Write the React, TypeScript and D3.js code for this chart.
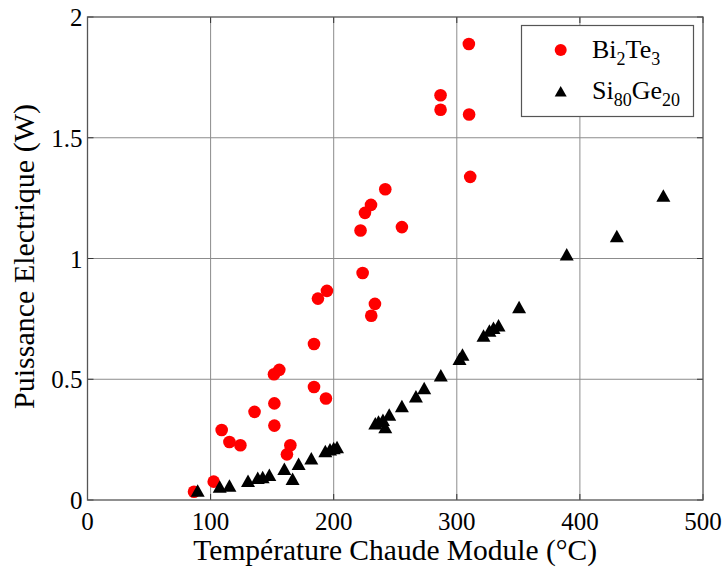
import React from "react";
import * as d3 from "d3";

const xTicks = [0, 100, 200, 300, 400, 500];
const yTicks = [0, 0.5, 1, 1.5, 2];
const yTickLabels = ["0", "0.5", "1", "1.5", "2"];

const biTemp = [86.5, 102.5, 109, 115.3, 124.2, 135.7, 151.8, 151.8, 151.5, 155.8, 162, 164.8, 184, 184, 187.2, 193.7, 194.5, 221.8, 223.5, 225.4, 230.3, 230.5, 233.5, 241.9, 255.4, 286.8, 286.8, 309.8, 310, 310.9];
const biPower = [0.034, 0.076, 0.29, 0.24, 0.227, 0.365, 0.4, 0.308, 0.521, 0.539, 0.189, 0.227, 0.468, 0.646, 0.834, 0.42, 0.866, 1.116, 0.94, 1.189, 1.222, 0.763, 0.812, 1.287, 1.13, 1.676, 1.616, 1.888, 1.596, 1.338];

const siTemp = [89.5, 107.4, 115.3, 130.4, 138.3, 142.3, 147.7, 159.9, 166.6, 171.5, 181.8, 193.2, 197, 200, 202.7, 233.8, 236.4, 240, 241.9, 245.1, 255.4, 266.8, 273.5, 287, 302.2, 304.6, 321.7, 326.5, 329.8, 333.9, 350.6, 389.3, 430, 467.8];
const siPower = [0.034, 0.051, 0.055, 0.075, 0.087, 0.09, 0.099, 0.124, 0.083, 0.145, 0.168, 0.198, 0.205, 0.21, 0.214, 0.313, 0.32, 0.327, 0.297, 0.349, 0.384, 0.424, 0.459, 0.511, 0.58, 0.597, 0.676, 0.697, 0.708, 0.718, 0.794, 1.012, 1.088, 1.256];

const W = 724;
const H = 570;
const left = 87.5;
const right = 703;
const top = 17;
const bottom = 500;
const font = "Liberation Serif";

const tri = "M0,-7.5L7,5L-7,5Z";

export default function App() {
  const x = d3.scaleLinear().domain([0, 500]).range([left, right]);
  const y = d3.scaleLinear().domain([0, 2]).range([bottom, top]);
  const ts = { fontFamily: font };
  return (
    <svg width={W} height={H} style={{ position: "absolute", left: 0, top: 0, background: "#fff", fontFamily: font }}>
      <rect x={0} y={0} width={W} height={H} fill="#fff" />
      {xTicks.slice(1, -1).map((t) => (
        <line key={"gx" + t} x1={x(t)} x2={x(t)} y1={top} y2={bottom} stroke="#8c8c8c" strokeWidth={1} />
      ))}
      {yTicks.slice(1, -1).map((t) => (
        <line key={"gy" + t} x1={left} x2={right} y1={y(t)} y2={y(t)} stroke="#8c8c8c" strokeWidth={1} />
      ))}
      {xTicks.map((t) => (
        <g key={"tx" + t}>
          <line x1={x(t)} x2={x(t)} y1={bottom} y2={bottom - 6} stroke="#333" />
          <line x1={x(t)} x2={x(t)} y1={top} y2={top + 6} stroke="#333" />
          <text x={x(t)} y={530} textAnchor="middle" fontSize={25} fill="#000" style={ts}>{t}</text>
        </g>
      ))}
      {yTicks.map((t, i) => (
        <g key={"ty" + t}>
          <line x1={left} x2={left + 6} y1={y(t)} y2={y(t)} stroke="#333" />
          <line x1={right} x2={right - 6} y1={y(t)} y2={y(t)} stroke="#333" />
          <text x={left - 5} y={y(t) + 9} textAnchor="end" fontSize={25} fill="#000" style={ts}>{yTickLabels[i]}</text>
        </g>
      ))}
      <rect x={left} y={top} width={right - left} height={bottom - top} fill="none" stroke="#555" strokeWidth={1.3} />
      {biTemp.map((t, i) => (
        <circle key={"b" + i} cx={x(t)} cy={y(biPower[i])} r={6.3} fill="#ff0000" />
      ))}
      {siTemp.map((t, i) => (
        <path key={"s" + i} d={tri} transform={`translate(${x(t)},${y(siPower[i])})`} fill="#000" />
      ))}
      <rect x={521.5} y={25.5} width={172} height={91} fill="#fff" stroke="#555" strokeWidth={1.2} />
      <circle cx={560.7} cy={50} r={6} fill="#ff0000" />
      <path d="M0,-6L6,4.5L-6,4.5Z" transform="translate(560.7,92)" fill="#000" />
      <text x={592} y={58} fontSize={26} fill="#000" style={ts}>
        Bi<tspan fontSize={18} dy={7}>2</tspan><tspan dy={-7}>Te</tspan><tspan fontSize={18} dy={7}>3</tspan>
      </text>
      <text x={592} y={99} fontSize={26} fill="#000" style={ts}>
        Si<tspan fontSize={18} dy={7}>80</tspan><tspan dy={-7}>Ge</tspan><tspan fontSize={18} dy={7}>20</tspan>
      </text>
      <text x={(left + right) / 2} y={560} textAnchor="middle" fontSize={29.5} fill="#000" style={ts}>Température Chaude Module (°C)</text>
      <text transform={`translate(33.5,${(top + bottom) / 2 - 2}) rotate(-90)`} textAnchor="middle" fontSize={30} fill="#000" style={ts}>Puissance Electrique (W)</text>
    </svg>
  );
}
